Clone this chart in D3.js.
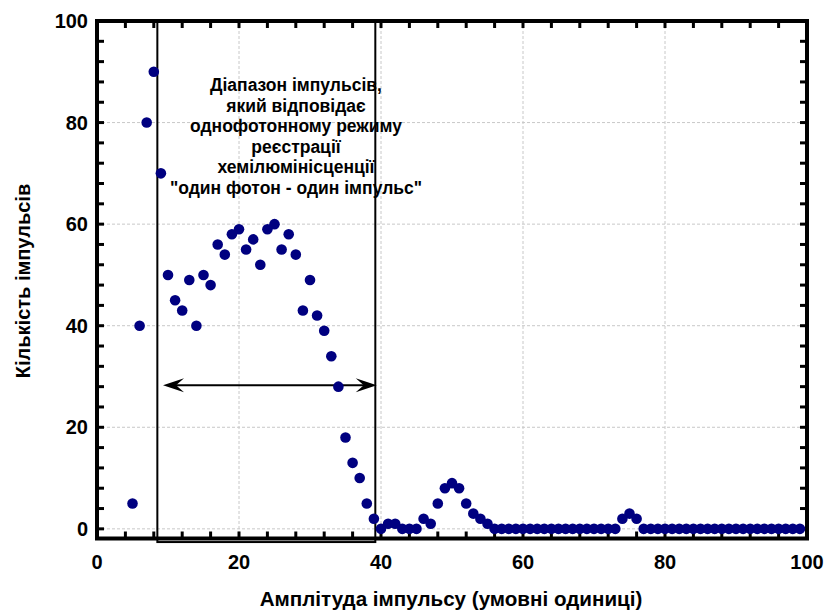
<!DOCTYPE html>
<html>
<head>
<meta charset="utf-8">
<script src="https://cdn.jsdelivr.net/npm/d3@7"></script>
</head>
<body style="margin:0">
<div id="chart"></div>
<script>
// amplitude (x) and pulse count (y)
const amplitudes = d3.range(5, 100);
const counts = [
  5, 40, 80, 90, 70, 50, 45, 43, 49, 40,
  50, 48, 56, 54, 58, 59, 55, 57, 52, 59,
  60, 55, 58, 54, 43, 49, 42, 39, 34, 28,
  18, 13, 10, 5, 2, 0, 1, 1, 0, 0,
  0, 2, 1, 5, 8, 9, 8, 5, 3, 2,
  1, 0, 0, 0, 0, 0, 0, 0, 0, 0,
  0, 0, 0, 0, 0, 0, 0, 0, 0, 2,
  3, 2, 0, 0, 0, 0, 0, 0, 0, 0,
  0, 0, 0, 0, 0, 0, 0, 0, 0, 0,
  0, 0, 0, 0, 0
];
const xTicks = [0, 20, 40, 60, 80, 100];
const yTicks = [0, 20, 40, 60, 80, 100];
const rangeBox = [8.5, 39.2];      // single-photon range
const arrowSpan = [9.3, 39.4];
const arrowLevel = 28.3;
const noteLines = [
  "Діапазон імпульсів,",
  "який відповідає",
  "однофотонному режиму",
  "реєстрації",
  "хемілюмінісценції",
  "\"один фотон - один імпульс\""
];

const width = 825, height = 612;
const font = "Liberation Sans";
const svg = d3.select("#chart").append("svg")
  .attr("width", width).attr("height", height);

const x = d3.scaleLinear().domain([0, 100]).range([97, 807]);
const y = d3.scaleLinear().domain([-1.9, 100]).range([538.5, 21]);
const x0 = x(0), x1 = x(100), yb = y(-1.9), yt = y(100);

// grid
xTicks.slice(1, -1).forEach(v => {
  svg.append("line").attr("x1", x(v)).attr("x2", x(v)).attr("y1", yt).attr("y2", yb)
    .attr("stroke", "#c8c8c8").attr("stroke-dasharray", "3,2").attr("stroke-width", 1);
});
yTicks.slice(0, -1).forEach(v => {
  svg.append("line").attr("x1", x0).attr("x2", x1).attr("y1", y(v)).attr("y2", y(v))
    .attr("stroke", "#c8c8c8").attr("stroke-dasharray", "3,2").attr("stroke-width", 1);
});

// range box
svg.append("rect")
  .attr("x", x(rangeBox[0])).attr("y", yt)
  .attr("width", x(rangeBox[1]) - x(rangeBox[0]))
  .attr("height", y(-2.6) - yt)
  .attr("fill", "none").attr("stroke", "black").attr("stroke-width", 2);

// inward ticks on all four sides
const minor = d3.range(0, 101, 4);
minor.forEach(v => {
  [[x(v), yb, x(v), yb - 7], [x(v), yt, x(v), yt + 7],
   [x0, y(v), x0 + 7, y(v)], [x1, y(v), x1 - 7, y(v)]].forEach(s => {
    svg.append("line")
      .attr("x1", s[0]).attr("y1", s[1]).attr("x2", s[2]).attr("y2", s[3])
      .attr("stroke", "black").attr("stroke-width", 3);
  });
});

// frame
svg.append("rect")
  .attr("x", x0).attr("y", yt).attr("width", x1 - x0).attr("height", yb - yt)
  .attr("fill", "none").attr("stroke", "black").attr("stroke-width", 4);

// tick labels
svg.append("g").selectAll("text").data(xTicks).join("text")
  .attr("x", d => x(d)).attr("y", 569)
  .attr("text-anchor", "middle")
  .attr("font-family", font).attr("font-weight", "bold").attr("font-size", 20)
  .text(d => d);
svg.append("g").selectAll("text").data(yTicks).join("text")
  .attr("x", 88).attr("y", d => y(d) + 7)
  .attr("text-anchor", "end")
  .attr("font-family", font).attr("font-weight", "bold").attr("font-size", 20)
  .text(d => d);

// axis titles
svg.append("text")
  .attr("x", 451).attr("y", 606)
  .attr("text-anchor", "middle")
  .attr("font-family", font).attr("font-weight", "bold").attr("font-size", 20.6)
  .text("Амплітуда імпульсу (умовні одиниці)");
svg.append("text")
  .attr("transform", "translate(30,281) rotate(-90)")
  .attr("text-anchor", "middle")
  .attr("font-family", font).attr("font-weight", "bold").attr("font-size", 20)
  .text("Кількість імпульсів");

// double arrow
const ay = y(arrowLevel), ax1 = x(arrowSpan[0]), ax2 = x(arrowSpan[1]);
svg.append("line").attr("x1", ax1 + 10).attr("x2", ax2 - 10).attr("y1", ay).attr("y2", ay)
  .attr("stroke", "black").attr("stroke-width", 2);
const head = (tip, dir) => `M${tip},${ay} L${tip + dir * 21},${ay - 7} L${tip + dir * 13},${ay} L${tip + dir * 21},${ay + 7} Z`;
svg.append("path").attr("d", head(ax1, 1)).attr("fill", "black");
svg.append("path").attr("d", head(ax2, -1)).attr("fill", "black");

// points
svg.append("g").selectAll("circle").data(amplitudes).join("circle")
  .attr("cx", d => x(d)).attr("cy", (d, i) => y(counts[i]))
  .attr("r", 5.3).attr("fill", "#000080");

// note
svg.append("text")
  .attr("text-anchor", "middle")
  .attr("font-family", font).attr("font-weight", "bold").attr("font-size", 17.5)
  .selectAll("tspan").data(noteLines).join("tspan")
  .attr("x", 296).attr("y", (d, i) => 91 + i * 20.5)
  .text(d => d);
</script>
</body>
</html>
